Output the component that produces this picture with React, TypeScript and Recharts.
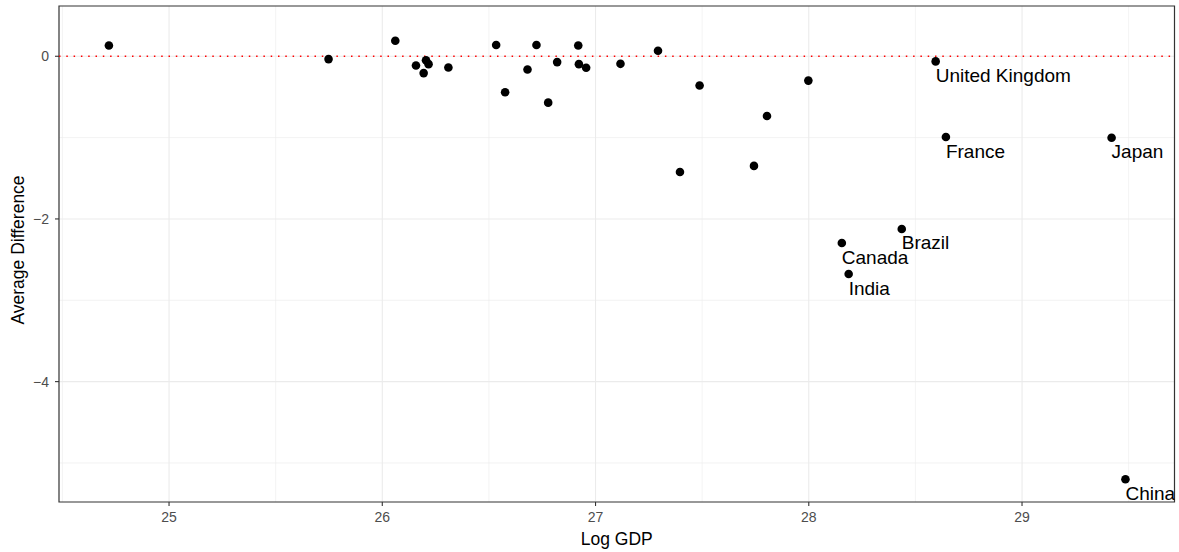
import React from 'react';
import { ScatterChart, Scatter, XAxis, YAxis, CartesianGrid, ReferenceLine, ReferenceArea, Label } from 'recharts';

// values
const logGdp = [
    24.718, 25.748, 26.061, 26.158, 26.205, 26.217, 26.194, 26.31, 26.534, 26.576,
    26.681, 26.723, 26.778, 26.82, 26.919, 26.922, 26.956, 27.117, 27.293, 27.396,
    27.488, 27.743, 27.804, 27.998, 28.595, 28.643, 29.42, 28.436, 28.155, 28.187, 29.485,
];
const avgDiff = [
    0.133, -0.035, 0.19, -0.113, -0.05, -0.097, -0.207, -0.138, 0.138, -0.442,
    -0.163, 0.138, -0.57, -0.072, 0.133, -0.097, -0.142, -0.093, 0.068, -1.422,
    -0.36, -1.348, -0.735, -0.299, -0.063, -0.993, -1.001, -2.123, -2.296, -2.677, -5.2,
];
const countryLabels = [
    '', '', '', '', '', '', '', '', '', '',
    '', '', '', '', '', '', '', '', '', '',
    '', '', '', '', 'United Kingdom', 'France', 'Japan', 'Brazil', 'Canada', 'India', 'China',
];

const xTicks = [25, 26, 27, 28, 29];
const xMinor = [24.5, 25.5, 26.5, 27.5, 28.5, 29.5];
const yTicks = [-4, -2, 0];
const yMinor = [-5, -3, -1];
const xDomain: [number, number] = [24.484, 29.715];
const yDomain: [number, number] = [-5.48, 0.618];

const data = logGdp.map((x, i) => ({ x, y: avgDiff[i], label: countryLabels[i] }));

const FONT = '"Liberation Sans", Arial, sans-serif';

const PointShape = (props: any) => {
    const { cx, cy, payload } = props;
    return (
        <g>
            <circle cx={cx} cy={cy} r={4.3} fill="#000" />
            {payload.label ? (
                <text x={cx} y={cy + 20.5} fontSize={19} fill="#000" fontFamily={FONT}>{payload.label}</text>
            ) : null}
        </g>
    );
};

const YTitle = (props: any) => {
    const { viewBox } = props;
    const tx = viewBox.x + 24;
    const ty = viewBox.y + viewBox.height / 2 - 4;
    return (
        <text x={tx} y={ty} transform={`rotate(-90 ${tx} ${ty})`} textAnchor="middle" fontSize={17.5} fill="#000" fontFamily={FONT}>
            Average Difference
        </text>
    );
};

export default function App() {
    return (
        <div style={{ position: 'absolute', left: 0, top: 0, background: '#fff' }}>
            <ScatterChart width={1179} height={552} margin={{ top: 6, right: 4.5, bottom: 0, left: 0 }} style={{ fontFamily: FONT }}>
                <CartesianGrid stroke="#EBEBEB" strokeWidth={0.6} horizontalValues={yMinor} verticalValues={xMinor} />
                <CartesianGrid stroke="#EBEBEB" strokeWidth={1.1} horizontalValues={yTicks} verticalValues={xTicks} />
                <XAxis
                    type="number" dataKey="x" domain={xDomain} ticks={xTicks} allowDataOverflow
                    height={50} axisLine={false} tickSize={4} tickMargin={6}
                    tickLine={{ stroke: '#333333', strokeWidth: 1.1 }}
                    tick={{ fill: '#4D4D4D', fontSize: 14 }}
                >
                    <Label value="Log GDP" position="insideBottom" offset={7} fontSize={17.5} fill="#000" />
                </XAxis>
                <YAxis
                    type="number" dataKey="y" domain={yDomain} ticks={yTicks} allowDataOverflow
                    width={59} axisLine={false} tickSize={4} tickMargin={6}
                    tickLine={{ stroke: '#333333', strokeWidth: 1.1 }}
                    tick={{ fill: '#4D4D4D', fontSize: 14 }}
                    tickFormatter={(v: number) => (v < 0 ? `\u2212${Math.abs(v)}` : `${v}`)}
                >
                    <Label content={<YTitle />} />
                </YAxis>
                <ReferenceLine y={0} stroke="#FF0000" strokeWidth={1.5} strokeDasharray="1.5 5.8" />
                <ReferenceArea x1={xDomain[0]} x2={xDomain[1]} y1={yDomain[0]} y2={yDomain[1]} fill="none" stroke="#333333" strokeWidth={1.2} fillOpacity={0} />
                <Scatter data={data} shape={<PointShape />} isAnimationActive={false} />
            </ScatterChart>
        </div>
    );
}
